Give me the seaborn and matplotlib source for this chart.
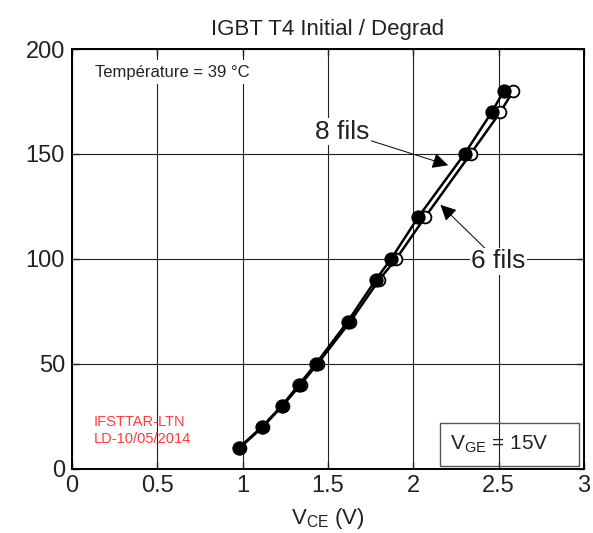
import numpy as np
import pandas as pd
import matplotlib
matplotlib.use("Agg")
import matplotlib.pyplot as plt
import seaborn as sns
from matplotlib.patches import Rectangle

# collector current (A) and V_CE (V)
current = [10, 20, 30, 40, 50, 70, 90, 100, 120, 150, 170, 180]
vce_8_fils = [0.98, 1.115, 1.23, 1.33, 1.43, 1.615, 1.78, 1.87, 2.03, 2.30, 2.46, 2.53]
vce_6_fils = [0.985, 1.12, 1.235, 1.34, 1.44, 1.63, 1.80, 1.90, 2.07, 2.335, 2.51, 2.585]

x_ticks = [0, 0.5, 1, 1.5, 2, 2.5, 3]
x_tick_labels = ["0", "0.5", "1", "1.5", "2", "2.5", "3"]
y_ticks = [0, 50, 100, 150, 200]

df = pd.DataFrame({
    "vce": vce_8_fils + vce_6_fils,
    "ic": current + current,
    "serie": ["8 fils"] * len(current) + ["6 fils"] * len(current),
})

sns.set_theme(style="ticks")
plt.rcParams["font.family"] = ["Liberation Sans", "DejaVu Sans"]
plt.rcParams["mathtext.fontset"] = "custom"
plt.rcParams["mathtext.rm"] = "Liberation Sans"
plt.rcParams["mathtext.it"] = "Liberation Sans:italic"

fig = plt.figure(figsize=(5.93, 5.33), dpi=100)
ax = fig.add_axes([0.1213, 0.121, 0.8636, 0.787])

# 6 fils : open markers (drawn first, the filled ones sit on top)
d6 = df[df["serie"] == "6 fils"]
sns.lineplot(data=d6, x="vce", y="ic", ax=ax, sort=False, estimator=None,
             color="black", lw=1.8, marker="o", markersize=8.5,
             markerfacecolor="white", markeredgecolor="black",
             markeredgewidth=1.3, zorder=3)
# 8 fils : filled markers
d8 = df[df["serie"] == "8 fils"]
sns.lineplot(data=d8, x="vce", y="ic", ax=ax, sort=False, estimator=None,
             color="black", lw=1.8, marker="o", markersize=9.5,
             markerfacecolor="black", markeredgecolor="black", zorder=4)

ax.set_xlim(0, 3)
ax.set_ylim(0, 200)
ax.set_xticks(x_ticks)
ax.set_xticklabels(x_tick_labels)
ax.set_yticks(y_ticks)
ax.grid(True, color="#222222", lw=0.8)
ax.set_axisbelow(True)
ax.tick_params(direction="in", top=True, right=True, length=5, width=1,
               labelsize=17, pad=5, colors="#222222")
for sp in ax.spines.values():
    sp.set_linewidth(1.4)
    sp.set_color("black")

ax.set_title("IGBT T4 Initial / Degrad", fontsize=16, pad=10, color="#222222")
ax.set_xlabel(r"V$_{\mathrm{CE}}$ (V)", fontsize=16, labelpad=6, color="#222222")
ax.set_ylabel("")

ax.text(0.045, 0.945, "Température = 39 °C", transform=ax.transAxes,
        fontsize=12, ha="left", va="center", color="#222222",
        bbox=dict(facecolor="white", edgecolor="none", pad=3))

ax.annotate("8 fils", xy=(2.204, 144.6), xytext=(1.584, 160.6),
            fontsize=19, ha="center", va="center", color="#222222",
            bbox=dict(facecolor="white", edgecolor="none", pad=1),
            arrowprops=dict(arrowstyle="-|>", color="black", lw=0.7,
                            mutation_scale=24, shrinkA=0, shrinkB=0))
ax.annotate("6 fils", xy=(2.159, 125.7), xytext=(2.498, 98.8),
            fontsize=19, ha="center", va="center", color="#222222",
            bbox=dict(facecolor="white", edgecolor="none", pad=1),
            arrowprops=dict(arrowstyle="-|>", color="black", lw=0.7,
                            mutation_scale=24, shrinkA=0, shrinkB=0))

ax.text(0.043, 0.09, "IFSTTAR-LTN\nLD-10/05/2014", transform=ax.transAxes,
        fontsize=10.5, ha="left", va="center", color="#ff3b3b",
        linespacing=1.25)

ax.add_patch(Rectangle((0.719, 0.007), 0.2714, 0.101, transform=ax.transAxes,
                       facecolor="none", edgecolor="#555555", lw=1, zorder=5))
ax.text(0.738, 0.057, r"V$_{\mathrm{GE}}$ = 15V", transform=ax.transAxes,
        fontsize=15, ha="left", va="center", color="#222222", zorder=6)

fig.savefig("out.png", dpi=100)
